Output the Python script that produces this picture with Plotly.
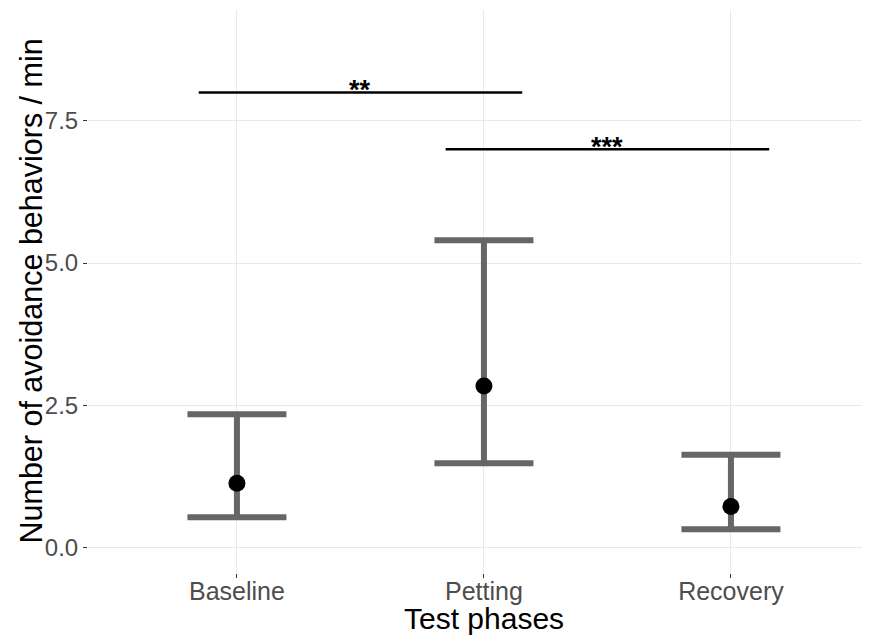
import plotly.graph_objects as go

phases = ["Baseline", "Petting", "Recovery"]
means = [1.13, 2.84, 0.72]
upper = [2.34, 5.40, 1.63]
lower = [0.53, 1.48, 0.32]

sig_pairs = [("Baseline", "Petting"), ("Petting", "Recovery")]
sig_y = [8.0, 7.0]
sig_labels = ["**", "***"]
sig_xoffset = 0.155

y_ticks = [0.0, 2.5, 5.0, 7.5]
y_tick_text = ["0.0", "2.5", "5.0", "7.5"]

err_plus = [u - m for u, m in zip(upper, means)]
err_minus = [m - l for m, l in zip(means, lower)]

fig = go.Figure()
fig.add_trace(go.Scatter(
    x=[0, 1, 2], y=means, mode="markers",
    marker=dict(color="black", size=17),
    error_y=dict(type="data", symmetric=False, array=err_plus, arrayminus=err_minus,
                 color="#666666", thickness=6, width=49.5),
    showlegend=False, hoverinfo="skip",
))

for (a, b), yv, lab in zip(sig_pairs, sig_y, sig_labels):
    xa = phases.index(a) - sig_xoffset
    xb = phases.index(b) + sig_xoffset
    fig.add_trace(go.Scatter(x=[xa, xb], y=[yv, yv], mode="lines",
                             line=dict(color="black", width=2.5),
                             showlegend=False, hoverinfo="skip"))
    fig.add_annotation(x=(xa + xb) / 2, y=yv, text="<b>" + lab + "</b>",
                       showarrow=False, yanchor="bottom", yshift=-15,
                       font=dict(family="Liberation Sans, Arial", size=27, color="black"))

# axis titles as annotations
fig.add_annotation(x=1, xref="x", y=0, yref="paper", text="Test phases",
                   showarrow=False, yanchor="top", yshift=-27,
                   font=dict(size=30, color="black"))
fig.add_annotation(x=0, xref="paper", y=0.5, yref="paper",
                   text="Number of avoidance behaviors / min", textangle=-90,
                   showarrow=False, xanchor="center", yanchor="middle", xshift=-58,
                   font=dict(size=30.5, color="black"))

# page body has an 8px margin; figure sized to fill the remaining 862x629 window area
fig.update_layout(
    width=862, height=629,
    margin=dict(l=80, r=0, t=2, b=64, autoexpand=False),
    paper_bgcolor="white", plot_bgcolor="white",
    font=dict(family="Liberation Sans, Arial, sans-serif"),
    xaxis=dict(
        range=[-0.603, 2.563], tickvals=[0, 1, 2], ticktext=phases,
        showgrid=True, gridcolor="#E8E8F4", gridwidth=1, zeroline=False,
        ticks="outside", ticklen=4, tickcolor="#333333", tickwidth=1,
        tickfont=dict(size=25, color="#4D4D4D"), automargin=False,
        ticklabelstandoff=-8,
        showline=False,
    ),
    yaxis=dict(
        range=[-0.45, 9.45], tickvals=y_ticks, ticktext=y_tick_text,
        showgrid=True, gridcolor="#E8E8F4", gridwidth=1, zeroline=False,
        ticks="outside", ticklen=4, tickcolor="#333333", tickwidth=1,
        tickfont=dict(size=24, color="#4D4D4D"), automargin=False,
        showline=False,
    ),
)

fig.write_html("out.html")
